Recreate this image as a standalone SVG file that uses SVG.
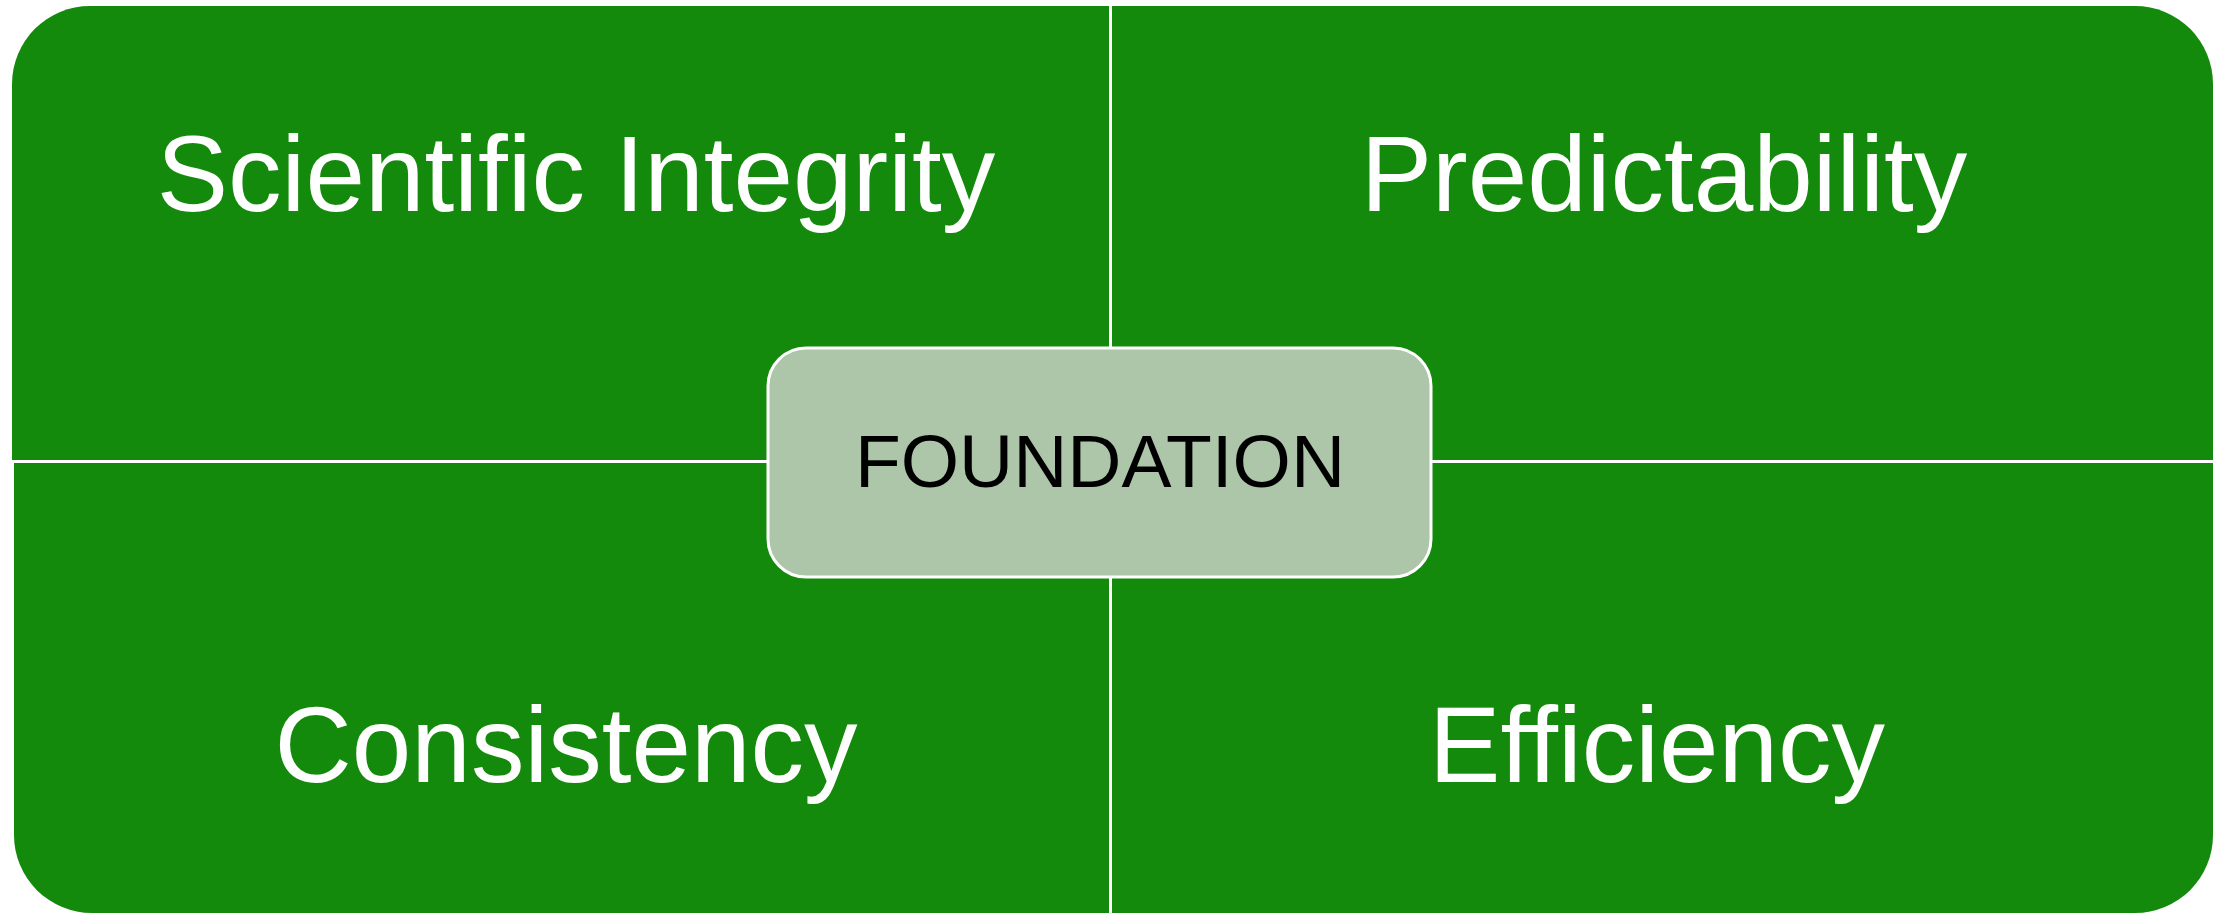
<svg xmlns="http://www.w3.org/2000/svg" width="2226" height="914" viewBox="0 0 2226 914">
  <defs>
    <style>
      .quad { fill: #138a0b; }
      .qlabel { font-family: "Liberation Sans", Arial, sans-serif; font-size: 107px; fill: #ffffff; text-anchor: middle; }
      .center { fill: #adc5a9; stroke: #ffffff; stroke-width: 3; }
      .clabel { font-family: "Liberation Sans", Arial, sans-serif; font-size: 75px; fill: #000000; text-anchor: middle; }
    </style>
  </defs>
  <rect width="2226" height="914" fill="#ffffff"/>
  <g id="scientific-integrity">
    <path class="quad" d="M12,84 A78,78 0 0 1 90,6 L1109,6 L1109,460 L12,460 Z"/>
    <text class="qlabel" x="576" y="211">Scientific Integrity</text>
  </g>
  <g id="predictability">
    <path class="quad" d="M1112,6 L2135,6 A78,78 0 0 1 2213,84 L2213,460 L1112,460 Z"/>
    <text class="qlabel" x="1664" y="211">Predictability</text>
  </g>
  <g id="consistency">
    <path class="quad" d="M14,463 L1109,463 L1109,913 L92,913 A78,78 0 0 1 14,835 Z"/>
    <text class="qlabel" x="566" y="782">Consistency</text>
  </g>
  <g id="efficiency">
    <path class="quad" d="M1112,463 L2213,463 L2213,835 A78,78 0 0 1 2135,913 L1112,913 Z"/>
    <text class="qlabel" x="1657" y="782">Efficiency</text>
  </g>
  <g id="connectors"></g>
  <g id="foundation">
    <rect class="center" x="768" y="348" width="663" height="229" rx="38" ry="38"/>
    <text class="clabel" x="1100" y="487">FOUNDATION</text>
  </g>
</svg>
